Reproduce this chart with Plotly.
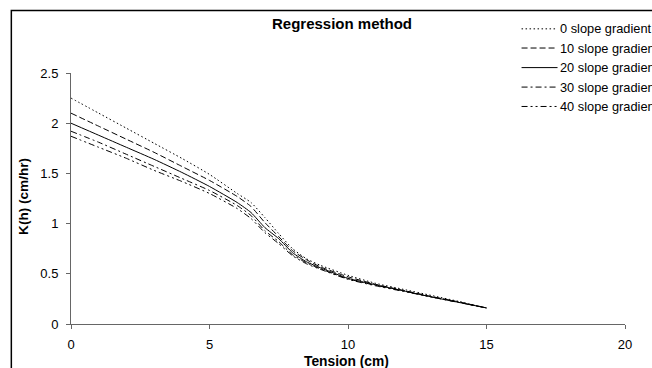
import plotly.graph_objects as go

# ---- data ----
tension = [0, 1, 2, 3, 4, 5, 6, 6.5, 7, 7.5, 8, 8.5, 9, 10, 11, 12, 13, 14, 15]
k_0  = [2.25, 2.10, 1.95, 1.80, 1.65, 1.49, 1.30, 1.21, 1.06, 0.90, 0.75, 0.65, 0.585, 0.485, 0.405, 0.345, 0.285, 0.225, 0.16]
k_10 = [2.10, 1.97, 1.84, 1.71, 1.57, 1.43, 1.27, 1.17, 1.01, 0.87, 0.73, 0.64, 0.57, 0.47, 0.395, 0.335, 0.275, 0.22, 0.16]
k_20 = [2.00, 1.88, 1.76, 1.64, 1.51, 1.37, 1.21, 1.11, 0.96, 0.85, 0.71, 0.62, 0.56, 0.455, 0.39, 0.33, 0.27, 0.215, 0.16]
k_30 = [1.92, 1.81, 1.69, 1.57, 1.45, 1.33, 1.18, 1.08, 0.93, 0.82, 0.69, 0.61, 0.55, 0.45, 0.385, 0.33, 0.27, 0.215, 0.16]
k_40 = [1.87, 1.76, 1.65, 1.53, 1.42, 1.30, 1.15, 1.05, 0.91, 0.80, 0.68, 0.60, 0.545, 0.445, 0.38, 0.325, 0.27, 0.215, 0.16]
series_names = ["0 slope gradient", "10 slope gradient", "20 slope gradient",
                "30 slope gradient", "40 slope gradient"]
series_vals = [k_0, k_10, k_20, k_30, k_40]
x_ticks = [0, 5, 10, 15, 20]
y_ticks = [0, 0.5, 1, 1.5, 2, 2.5]

dashes = ["1.5px,2.5px", "6px,3px", "solid", "6px,3px,2px,3px", "6px,3px,2px,3px,2px,3px"]

W, H = 652, 368
L, R, T, B = 70.7, 625.0, 72.5, 323.7

def px(x):
    return (x - L) / (R - L)

def py(y):
    return (B - y) / (B - T)

FONT = "Liberation Sans, Arial"

fig = go.Figure()
for name, vals, d in zip(series_names, series_vals, dashes):
    fig.add_trace(go.Scatter(x=tension, y=vals, name=name, mode="lines",
                             line=dict(color="black", width=1, dash=d,
                                       shape="spline", smoothing=0.5),
                             showlegend=False))

shapes = []
annotations = []
# outer chart border (extends past the image edge)
shapes.append(dict(type="rect", xref="paper", yref="paper",
                   x0=px(11), x1=px(700), y0=py(420), y1=py(10),
                   line=dict(color="black", width=1.5)))

# manual legend
leg_y = [28.3, 47.5, 67.1, 86.6, 106.0]
for name, d, yy in zip(series_names, dashes, leg_y):
    shapes.append(dict(type="line", xref="paper", yref="paper",
                       x0=px(521.5), x1=px(557.5), y0=py(yy), y1=py(yy),
                       line=dict(color="black", width=1, dash=d)))
    annotations.append(dict(text=name, xref="paper", yref="paper",
                            x=px(557.5), y=py(yy), xanchor="left", yanchor="middle",
                            showarrow=False, font=dict(size=12.8, color="black", family=FONT)))

annotations.append(dict(text="<b>Regression method</b>", xref="paper", yref="paper",
                        x=px(341.5), y=py(23), xanchor="center", yanchor="middle",
                        showarrow=False, font=dict(size=15, color="black", family=FONT)))
annotations.append(dict(text="<b>Tension (cm)</b>", xref="paper", yref="paper",
                        x=px(346.7), y=py(361.5), xanchor="center", yanchor="middle",
                        showarrow=False, font=dict(size=13.8, color="black", family=FONT)))
annotations.append(dict(text="<b>K(h) (cm/hr)</b>", xref="paper", yref="paper",
                        x=px(23.7), y=py(196.5), xanchor="center", yanchor="middle",
                        textangle=-90,
                        showarrow=False, font=dict(size=13.6, color="black", family=FONT)))

axis_common = dict(showgrid=False, zeroline=False, showline=True, linecolor="#666666",
                   linewidth=1, ticks="outside", ticklen=4, tickcolor="#666666",
                   tickfont=dict(size=13, color="black", family=FONT))

fig.update_layout(
    width=W, height=H,
    margin=dict(l=L, r=W - R, t=T, b=H - B, autoexpand=False),
    paper_bgcolor="white", plot_bgcolor="white",
    xaxis=dict(range=[0, 20], tickvals=x_ticks, ticklabelstandoff=4, **axis_common),
    yaxis=dict(range=[0, 2.5], tickvals=y_ticks, ticklabelstandoff=5, **axis_common),
    shapes=shapes, annotations=annotations, showlegend=False,
)

fig.write_html("out.html", config={"displayModeBar": False},
               post_script="document.body.style.margin='0';document.body.style.overflow='hidden';")
